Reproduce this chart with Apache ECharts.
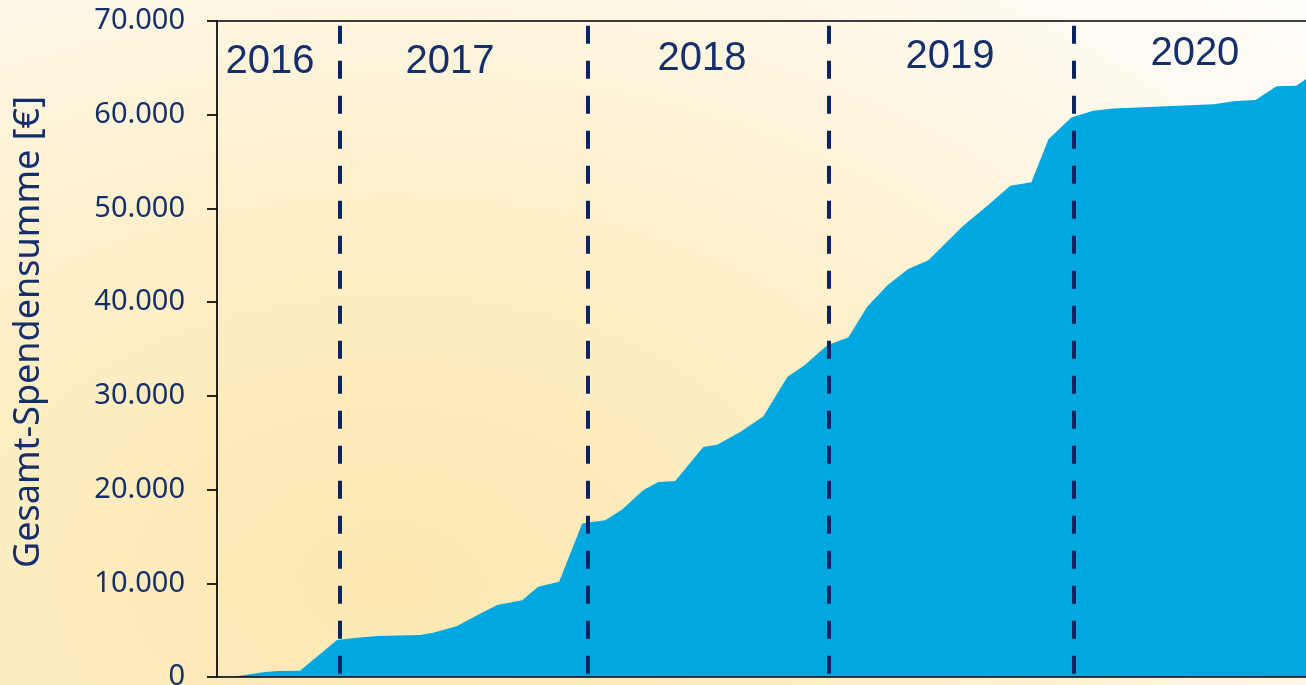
<!DOCTYPE html>
<html>
<head>
<meta charset="utf-8">
<script src="https://cdn.jsdelivr.net/npm/echarts@6/dist/echarts.min.js"></script>
<style>
html,body{margin:0;padding:0;}
body{width:1306px;height:685px;overflow:hidden;
background: radial-gradient(ellipse 95% 120% at 30% 85%, #fde8b1 0%, #feefc8 45%, #fffaf0 85%, #fffdf8 100%);}
#chart{width:1306px;height:685px;}
</style>
</head>
<body>
<div id="chart"></div>
<script>
// Months since July 2016 (x) and cumulative donation sum in EUR (y)
const months = [0, 0.79, 2.26, 2.94, 4.07, 5.89, 6.87, 7.85, 9.96, 10.6, 11.78, 12.76, 13.74, 14.97, 15.75, 16.78, 17.91, 18.3, 19.04, 19.87, 20.9, 21.64, 22.47, 23.85, 24.53, 25.66, 26.79, 27.97, 28.8, 29.93, 30.96, 31.89, 32.87, 33.9, 34.89, 36.6, 37.78, 38.91, 39.94, 40.78, 41.9, 42.98, 43.96, 48.87, 49.95, 50.93, 51.96, 52.94, 53.41];
const totals = [100, 30, 500, 640, 670, 3940, 4190, 4370, 4470, 4720, 5430, 6600, 7670, 8200, 9620, 10160, 16380, 16510, 16730, 17870, 19920, 20810, 20910, 24540, 24790, 26140, 27810, 32000, 33240, 35400, 36230, 39500, 41770, 43540, 44470, 48160, 50290, 52420, 52800, 57390, 59700, 60410, 60660, 61120, 61475, 61580, 63030, 63100, 63800];
// Year dividers (months since July 2016)
const yearDividers = [6.0, 18.2, 30.0, 42.0];
// Year labels
const yearNames = ['2016', '2017', '2018', '2019', '2020'];
const yearLabelX = [2.6, 11.43, 23.79, 35.95, 47.96];
const yearLabelY = [65600, 65600, 65900, 66200, 66500];
// Y axis ticks
const yMin = 0, yMax = 70000, yStep = 10000;
const yAxisTitle = 'Gesamt-Spendensumme [€]';
const xMax = 53.41;

const navy = '#142f6b';
const chart = echarts.init(document.getElementById('chart'), null, {renderer: 'canvas'});
chart.setOption({
  backgroundColor: 'transparent',
  animation: false,
  grid: {left: 217, right: 0, top: 21, bottom: 8, containLabel: false, outerBoundsMode: 'none'},
  xAxis: [{
    type: 'value', min: 0, max: xMax, position: 'bottom', z: 4,
    axisLine: {show: true, onZero: false, lineStyle: {color: '#000', width: 1.7}},
    axisTick: {show: false}, axisLabel: {show: false}, splitLine: {show: false}
  }, {
    type: 'value', min: 0, max: xMax, position: 'top', z: 4,
    axisLine: {show: true, onZero: false, lineStyle: {color: '#000', width: 1.7}},
    axisTick: {show: false}, axisLabel: {show: false}, splitLine: {show: false}
  }],
  yAxis: {
    type: 'value', min: yMin, max: yMax, interval: yStep, z: 4,
    axisLine: {show: true, lineStyle: {color: '#000', width: 1.7}},
    axisTick: {show: true, inside: false, length: 10, lineStyle: {color: '#000', width: 1.7}},
    splitLine: {show: false},
    axisLabel: {
      margin: 32, color: navy, fontFamily: 'Noto Sans', fontSize: 29,
      formatter: v => v === 0 ? '0' : (v / 1000).toFixed(0) + '.000'
    },
    name: yAxisTitle, nameLocation: 'middle', nameRotate: 90, nameGap: 170,
    nameTextStyle: {color: navy, fontFamily: 'Noto Sans', fontSize: 36, padding: [0, 0, 0, 34]}
  },
  series: [{
    type: 'line',
    data: months.map((m, i) => [m, totals[i]]),
    symbol: 'none',
    lineStyle: {width: 0},
    areaStyle: {color: '#01a7e1', opacity: 1},
    z: 2,
    markLine: {
      silent: true, symbol: 'none', label: {show: false},
      lineStyle: {color: '#0a2462', width: 4, type: [18, 17]},
      data: yearDividers.map(x => [{coord: [x, 69500]}, {coord: [x, 0]}]),
      z: 5
    }
  }, {
    type: 'scatter',
    symbolSize: 0,
    itemStyle: {opacity: 1},
    data: yearNames.map((n, i) => ({name: n, value: [yearLabelX[i], yearLabelY[i]]})),
    label: {show: true, position: 'inside', formatter: p => p.name,
      color: navy, fontFamily: 'Liberation Sans', fontSize: 40},
    z: 6
  }]
});
</script>
</body>
</html>
